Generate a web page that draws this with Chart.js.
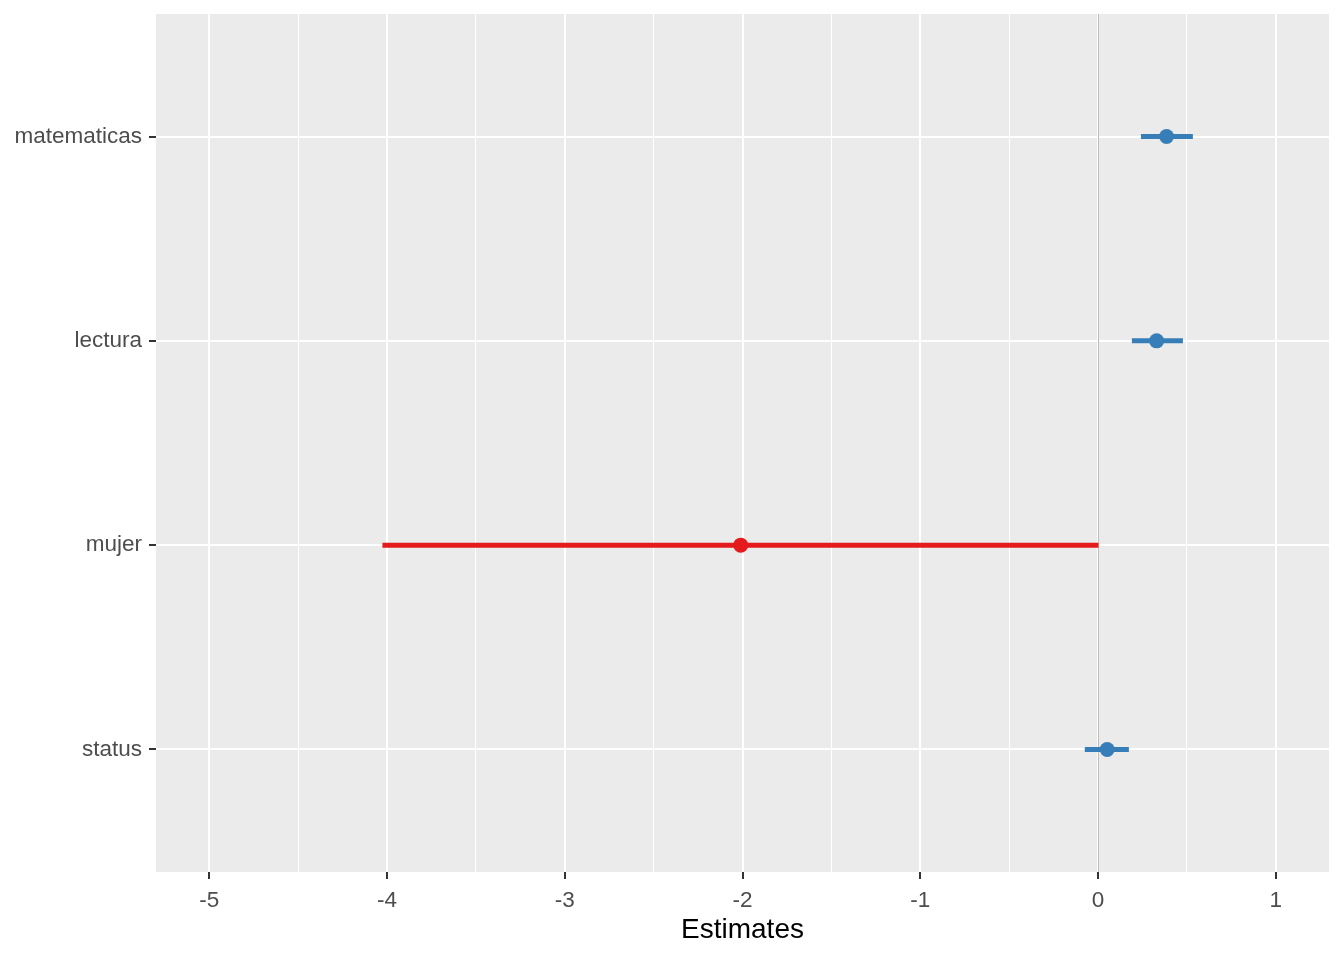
<!DOCTYPE html>
<html><head><meta charset="utf-8">
<script src="https://cdn.jsdelivr.net/npm/chart.js@4.4.0/dist/chart.umd.min.js"></script>
<style>html,body{margin:0;padding:0;background:#fff}#wrap{width:1344px;height:960px}</style>
</head><body><div id="wrap"><canvas id="c" width="1344" height="960"></canvas></div>
<script>
// ---- data (top to bottom) ----
const categories = ["matematicas", "lectura", "mujer", "status"];
const estimates  = [0.386, 0.330, -2.010, 0.052];
const ciLow      = [0.242, 0.191, -4.026, -0.074];
const ciHigh     = [0.534, 0.478, 0.003, 0.174];
const xTicks     = [-5, -4, -3, -2, -1, 0, 1];
const xLimits    = [-5.30, 1.30];
const axisTitle  = "Estimates";

const POS_COLOR = "#377EB8", NEG_COLOR = "#E41A1C";
const n = categories.length;
const yPos = categories.map((c, i) => n - i);
const colorOf = v => v >= 0 ? POS_COLOR : NEG_COLOR;

const xMinor = [];
for (let i = 0; i < xTicks.length - 1; i++) xMinor.push((xTicks[i] + xTicks[i + 1]) / 2);
const xAllTicks = xTicks.concat(xMinor).sort((a, b) => a - b);
const isMajor = v => xTicks.includes(v);

const ciDatasets = categories.map((c, i) => ({
  type: 'line',
  data: [{x: ciLow[i], y: yPos[i]}, {x: ciHigh[i], y: yPos[i]}],
  borderColor: colorOf(estimates[i]),
  borderWidth: 5,
  pointRadius: 0,
  borderCapStyle: 'butt',
  showLine: true,
  order: 2
}));
const pointDataset = {
  type: 'scatter',
  data: categories.map((c, i) => ({x: estimates[i], y: yPos[i]})),
  backgroundColor: estimates.map(colorOf),
  pointRadius: 7.5,
  pointBorderWidth: 0,
  order: 1
};

const bgPlugin = {
  id: 'panelBg',
  beforeDraw(chart) {
    const {ctx, chartArea: a} = chart;
    ctx.save();
    ctx.fillStyle = '#EBEBEB';
    ctx.fillRect(a.left, a.top, a.right - a.left, a.bottom - a.top);
    ctx.restore();
  },
  beforeDatasetsDraw(chart) {
    const {ctx, chartArea: a, scales} = chart;
    const x = Math.round(scales.x.getPixelForValue(0)) + 0.5;
    ctx.save();
    ctx.strokeStyle = '#BDBDBD';
    ctx.lineWidth = 1;
    ctx.beginPath();
    ctx.moveTo(x, a.top);
    ctx.lineTo(x, a.bottom);
    ctx.stroke();
    ctx.restore();
  }
};

const tickFont = {family: "'Liberation Sans', Arial, sans-serif", size: 22.5};
const noPad = s => { s.paddingTop = 0; s.paddingBottom = 0; s.paddingLeft = 0; s.paddingRight = 0; };

new Chart(document.getElementById('c'), {
  data: {datasets: [pointDataset, ...ciDatasets]},
  plugins: [bgPlugin],
  options: {
    responsive: false,
    animation: false,
    events: [],
    layout: {padding: {top: 14, right: 15, left: 0, bottom: 0}},
    plugins: {legend: {display: false}, tooltip: {enabled: false}},
    scales: {
      x: {
        type: 'linear',
        min: xLimits[0], max: xLimits[1],
        afterBuildTicks: s => { s.ticks = xAllTicks.map(v => ({value: v})); },
        afterFit: s => { s.height = 88; noPad(s); },
        ticks: {
          autoSkip: false, maxRotation: 0,
          padding: 8,
          color: '#4D4D4D',
          font: tickFont,
          callback: v => isMajor(v) ? String(v) : ''
        },
        grid: {
          color: '#FFFFFF',
          lineWidth: c => (c.tick && isMajor(c.tick.value)) ? 2 : 1,
          tickLength: 7,
          tickWidth: 2,
          tickColor: c => (c.tick && isMajor(c.tick.value)) ? '#333333' : 'rgba(0,0,0,0)'
        },
        border: {display: false},
        title: {
          display: true, text: axisTitle, color: '#000000',
          font: {family: "'Liberation Sans', Arial, sans-serif", size: 28},
          padding: {top: 0, bottom: 13}
        }
      },
      y: {
        type: 'linear',
        min: 0.4, max: n + 0.6,
        afterBuildTicks: s => { s.ticks = yPos.map(v => ({value: v})); },
        afterFit: s => { s.width = 156; noPad(s); },
        ticks: {
          autoSkip: false,
          padding: 7,
          color: '#4D4D4D',
          font: tickFont,
          callback: v => categories[yPos.indexOf(v)]
        },
        grid: {
          color: '#FFFFFF',
          lineWidth: 2,
          tickLength: 7,
          tickWidth: 2,
          tickColor: '#333333'
        },
        border: {display: false}
      }
    }
  }
});
</script>
</body></html>
